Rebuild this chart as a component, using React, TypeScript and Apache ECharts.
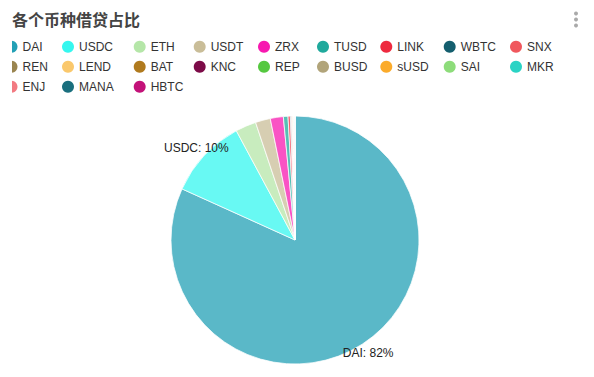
import React, { useEffect, useRef } from "react";
import * as echarts from "echarts";

const TITLE = "各个币种借贷占比";
const COINS = ["DAI","USDC","ETH","USDT","ZRX","TUSD","LINK","WBTC","SNX","REN","LEND","BAT","KNC","REP","BUSD","sUSD","SAI","MKR","ENJ","MANA","HBTC"];
const SHARES = [81.8,10.4,2.7,1.95,1.7,0.6,0.3,0.12,0.1,0.08,0.06,0.05,0.04,0.03,0.03,0.02,0.02,0.02,0.01,0.01,0.01];
const COLORS = ["#23a0b5","#35f7ef","#b5e6a8","#c9bd98","#f719b0","#1fa99c","#ee2a3f","#145e6e","#f0575d","#9a8550","#fac86c","#b07a1e","#7c0b48","#55c83f","#b1a47a","#fbab2b","#8ddc7a","#2ad3c4","#f27a82","#1a6f7e","#c31279"];
const LEGEND_COLS = 9;
const COL_LEFTS = [5.5, 62, 133.7, 193.7, 258, 317, 380.3, 443.7, 510];

export default function App() {
  const ref = useRef<HTMLDivElement>(null);
  useEffect(() => {
    if (!ref.current) return;
    const chart = echarts.init(ref.current, null, { renderer: "svg" });
    const font = "'Liberation Sans', Arial, sans-serif";
    const legends = COL_LEFTS.map((left, c) => ({
      orient: "vertical" as const,
      left,
      top: 40.8,
      padding: 0,
      itemGap: 8,
      itemWidth: 12,
      itemHeight: 12,
      icon: "circle",
      selectedMode: false,
      itemStyle: { opacity: 1, borderWidth: 0 },
      textStyle: { fontSize: 12, color: "#333", fontFamily: font },
      data: COINS.filter((_, i) => i % LEGEND_COLS === c),
    }));
    chart.setOption({
      animation: false,
      color: COLORS,
      title: {
        text: TITLE,
        left: 12,
        top: 11,
        padding: 0,
        textStyle: { fontSize: 16, fontWeight: "bold", color: "#444", fontFamily: "'Noto Sans CJK SC', sans-serif" },
      },
      legend: legends,
      graphic: [
        { type: "rect", z: 100, shape: { x: 0, y: 34, width: 12, height: 62 }, style: { fill: "#fff" } },
        { type: "circle", z: 100, shape: { cx: 576, cy: 13.5, r: 2 }, style: { fill: "#aaa" } },
        { type: "circle", z: 100, shape: { cx: 576, cy: 19.5, r: 2 }, style: { fill: "#aaa" } },
        { type: "circle", z: 100, shape: { cx: 576, cy: 25.5, r: 2 }, style: { fill: "#aaa" } },
      ],
      series: [
        {
          type: "pie",
          center: [295, 240],
          radius: 124,
          startAngle: 90,
          avoidLabelOverlap: false,
          minShowLabelAngle: 20,
          percentPrecision: 0,
          itemStyle: { opacity: 0.75, borderColor: "#fff", borderWidth: 1 },
          label: {
            show: true,
            position: "outside",
            formatter: "{b}: {d}%",
            fontSize: 12,
            color: "#222",
            opacity: 1,
            fontFamily: font,
            distanceToLabelLine: 0,
          },
          labelLine: { show: false, length: 11, length2: 0 },
          labelLayout: () => ({ align: "center", verticalAlign: "middle" }),
          emphasis: { disabled: true },
          data: COINS.map((name, i) => ({ name, value: SHARES[i] })),
        },
      ],
    });
    return () => chart.dispose();
  }, []);
  return <div ref={ref} style={{ position: "absolute", left: 0, top: 0, width: 594, height: 377 }} />;
}
